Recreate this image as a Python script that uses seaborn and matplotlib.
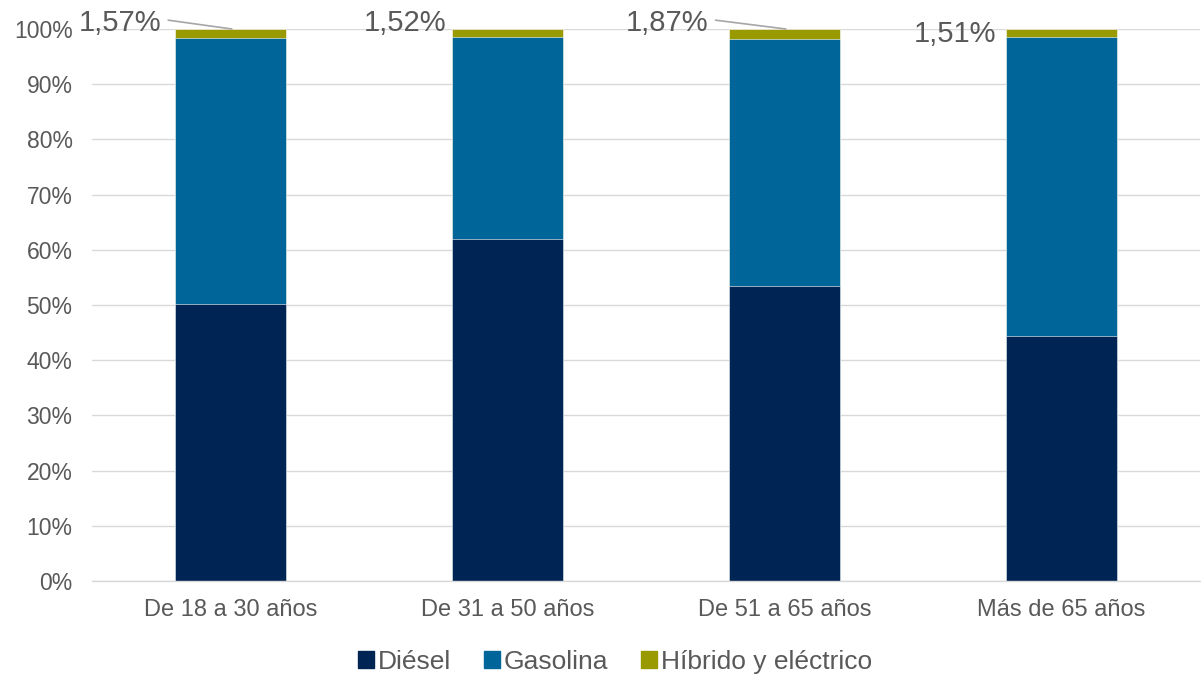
import numpy as np
import pandas as pd
import seaborn as sns
import matplotlib.pyplot as plt

categorias = ['De 18 a 30 años', 'De 31 a 50 años', 'De 51 a 65 años', 'Más de 65 años']
diesel = [50.2, 62.0, 53.4, 44.4]
hibrido = [1.57, 1.52, 1.87, 1.51]
gasolina = [100 - d - h for d, h in zip(diesel, hibrido)]
etiquetas_hibrido = ['1,57%', '1,52%', '1,87%', '1,51%']

series = ['Diésel', 'Gasolina', 'Híbrido y eléctrico']
colores = ['#002554', '#006699', '#999900']

sns.set_style('white')
plt.rcParams['font.family'] = ['Liberation Sans', 'DejaVu Sans']

df = pd.DataFrame({'cat': categorias, 'diesel': diesel, 'gasolina': gasolina, 'hibrido': hibrido})
df['tope_gas'] = df['diesel'] + df['gasolina']
df['tope_hib'] = df['tope_gas'] + df['hibrido']

fig = plt.figure(figsize=(12.01, 6.76), dpi=100)
ax = fig.add_axes([92 / 1201, 1 - 581 / 676, 1108 / 1201, 552 / 676])

ax.yaxis.grid(True, color='#D9D9D9', linewidth=1)
ax.set_axisbelow(True)

# barras apiladas: se dibuja primero el total y encima los tramos de abajo
for col, c in zip(['tope_hib', 'tope_gas', 'diesel'], colores[::-1]):
    sns.barplot(data=df, x='cat', y=col, color=c, width=0.4, ax=ax,
                edgecolor='white', linewidth=0.4, saturation=1)

ax.set_ylim(0, 100)
ax.set_xlim(-0.5, 3.5)
ax.set_yticks(np.arange(0, 101, 10))
ax.set_yticklabels([f'{v}%' for v in range(0, 101, 10)])
ax.set_xlabel('')
ax.set_ylabel('')
ax.tick_params(axis='y', length=0, pad=14, labelsize=16.5, labelcolor='#595959')
ax.tick_params(axis='x', length=0, pad=13, labelsize=17, labelcolor='#595959')
for s in ['top', 'right', 'left']:
    ax.spines[s].set_visible(False)
ax.spines['bottom'].set_color('#D9D9D9')
ax.spines['bottom'].set_linewidth(1)

# etiquetas del tramo híbrido
desplaz = [(-0.40, 101.1, True), (0.63, 101.1, False), (1.576, 101.1, True), (2.615, 99.1, False)]
for i, (tx, ty, linea) in enumerate(desplaz):
    ax.text(tx, ty, etiquetas_hibrido[i], ha='center', va='center', fontsize=21,
            color='#595959', clip_on=False)
    if linea:
        ax.plot([tx + 0.175, i + 0.005], [ty + 0.5, df['tope_hib'][i]], color='#A6A6A6',
                linewidth=1.2, clip_on=False, zorder=5)

handles = [plt.Rectangle((0, 0), 1, 1, color=c) for c in colores]
fig.legend(handles, series, loc='center', bbox_to_anchor=(0.512, 1 - 662 / 676), ncol=3,
           frameon=False, fontsize=19, labelcolor='#595959', handlelength=0.6,
           handleheight=0.6, handletextpad=0.15, columnspacing=1.25)

fig.savefig('out.png', dpi=100)
